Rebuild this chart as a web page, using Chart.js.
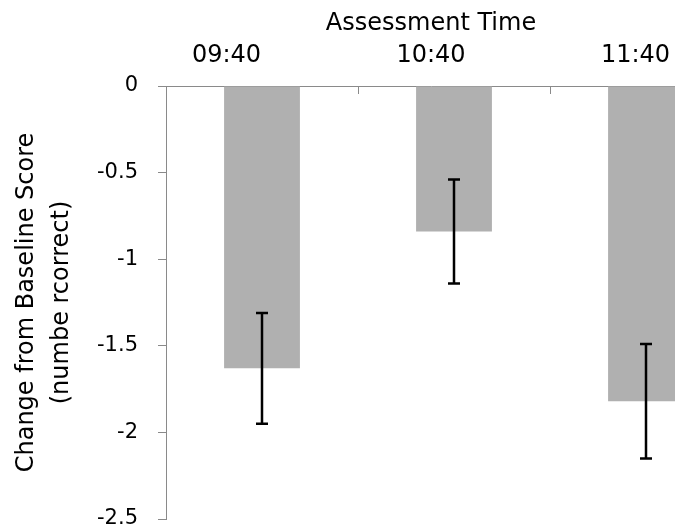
<!DOCTYPE html>
<html>
<head>
<meta charset="utf-8">
<script src="https://cdn.jsdelivr.net/npm/chart.js@4"></script>
<style>
  html, body { margin: 0; padding: 0; background: #fff; overflow: hidden; }
  canvas { display: block; }
</style>
</head>
<body>
<canvas id="chart" width="720" height="531"></canvas>
<script>
// --- Data ---
const timeLabels = ['09:40', '10:40', '11:40'];
const barPositions = [0, 1, 2];
const changeValues = [-1.63, -0.84, -1.82];
const errorValues = [0.32, 0.30, 0.33];
const yTickValues = [0, -0.5, -1, -1.5, -2, -2.5];
const boundaryTicks = [-0.5, 0.5, 1.5];

const axisColor = '#8a8a8a';

Chart.defaults.font.family = "'DejaVu Sans', sans-serif";
Chart.defaults.color = '#000';

// Error bars drawn from the bar elements and the y scale
const errorBars = {
    id: 'errorBars',
    afterDatasetsDraw(chart) {
        const ctx = chart.ctx;
        const yScale = chart.scales.y;
        const meta = chart.getDatasetMeta(0);
        ctx.save();
        ctx.strokeStyle = '#000';
        ctx.lineWidth = 2.5;
        meta.data.forEach((bar, i) => {
            const top = yScale.getPixelForValue(changeValues[i] + errorValues[i]);
            const bottom = yScale.getPixelForValue(changeValues[i] - errorValues[i]);
            ctx.beginPath();
            ctx.moveTo(bar.x, top);
            ctx.lineTo(bar.x, bottom);
            ctx.moveTo(bar.x - 6, top);
            ctx.lineTo(bar.x + 6, top);
            ctx.moveTo(bar.x - 6, bottom);
            ctx.lineTo(bar.x + 6, bottom);
            ctx.stroke();
        });
        ctx.restore();
    }
};

new Chart(document.getElementById('chart'), {
    type: 'bar',
    data: {
        datasets: [{
            data: barPositions.map((x, i) => ({ x: x, y: changeValues[i] })),
            backgroundColor: '#b0b0b0',
            borderWidth: 0,
            barPercentage: 0.395,
            categoryPercentage: 1
        }]
    },
    options: {
        responsive: false,
        animation: false,
        layout: { padding: { left: 0, right: 24, top: 0, bottom: 12 } },
        plugins: {
            legend: { display: false },
            tooltip: { enabled: false }
        },
        scales: {
            x: {
                type: 'linear',
                position: 'top',
                weight: 0,
                min: -0.5,
                max: 2.2604,
                offset: false,
                afterBuildTicks: axis => { axis.ticks = boundaryTicks.map(v => ({ value: v })); },
                afterFit: axis => { axis.height = 0; },
                ticks: { display: false },
                grid: {
                    display: true,
                    offset: false,
                    drawOnChartArea: false,
                    drawTicks: true,
                    tickLength: -8,
                    color: axisColor,
                    lineWidth: 1
                },
                border: { display: false }
            },
            x2: {
                type: 'linear',
                axis: 'x',
                position: 'top',
                weight: 1,
                min: -0.2958,
                max: 2.2958,
                offset: false,
                afterBuildTicks: axis => { axis.ticks = barPositions.map(v => ({ value: v })); },
                afterFit: axis => { axis.height = 86; },
                ticks: {
                    font: { size: 24 },
                    padding: 16,
                    maxRotation: 0,
                    autoSkip: false,
                    callback: v => timeLabels[v]
                },
                grid: { display: false, drawTicks: false },
                border: { display: true, color: axisColor, width: 1 },
                title: {
                    display: true,
                    text: 'Assessment Time',
                    font: { size: 24 },
                    padding: { top: 9.5, bottom: 0 }
                }
            },
            y: {
                min: -2.5,
                max: 0,
                afterBuildTicks: axis => { axis.ticks = yTickValues.map(v => ({ value: v })); },
                afterFit: axis => {
                    axis.width = 166;
                    axis.paddingTop = 0;
                    axis.paddingBottom = 0;
                },
                ticks: {
                    font: { size: 21 },
                    padding: 20,
                    callback: v => String(v)
                },
                grid: {
                    display: true,
                    drawOnChartArea: false,
                    drawTicks: true,
                    tickLength: 8,
                    color: axisColor,
                    lineWidth: 1
                },
                border: { display: true, color: axisColor, width: 1 },
                title: {
                    display: true,
                    text: ['Change from Baseline Score', '(numbe rcorrect)'],
                    font: { size: 24, lineHeight: 1.46 },
                    padding: { top: 9, bottom: 0 }
                }
            }
        }
    },
    plugins: [errorBars]
});
</script>
</body>
</html>
